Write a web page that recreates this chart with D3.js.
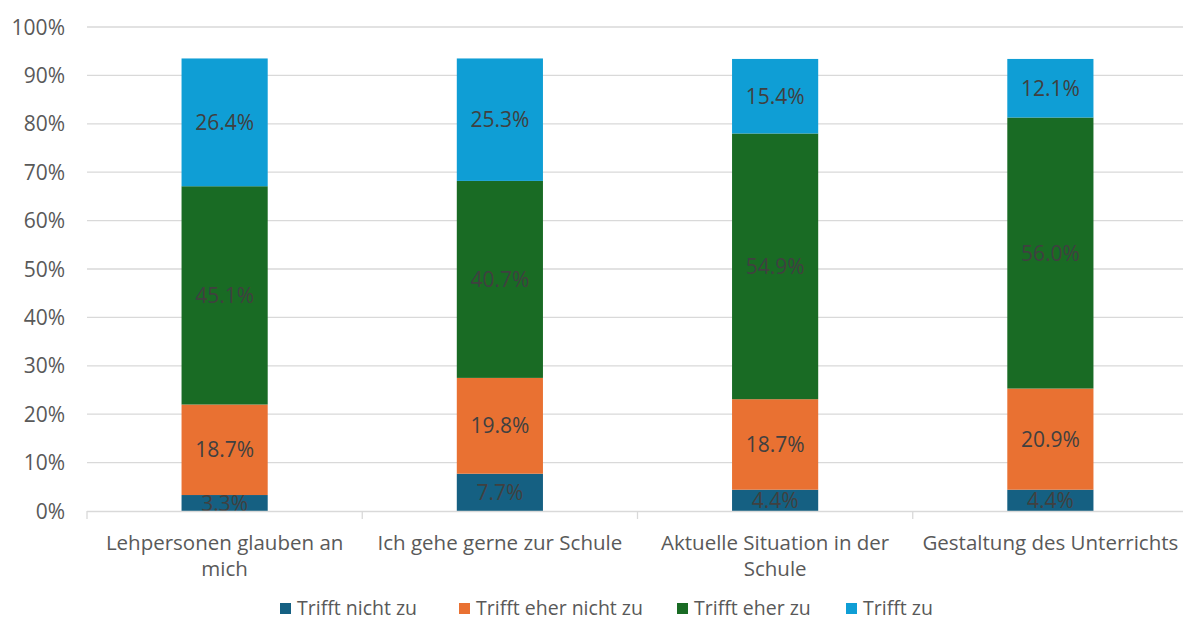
<!DOCTYPE html>
<html><head><meta charset="utf-8">
<script src="https://cdn.jsdelivr.net/npm/d3@7"></script>
<style>
body{margin:0;background:#fff;}
svg{display:block;}
text{font-family:"Open Sans","Noto Sans",sans-serif;}
</style></head>
<body><svg id="c" width="1183" height="621"></svg>
<script>
const categories = ["Lehpersonen glauben an mich","Ich gehe gerne zur Schule","Aktuelle Situation in der Schule","Gestaltung des Unterrichts"];
const seriesNames = ["Trifft nicht zu","Trifft eher nicht zu","Trifft eher zu","Trifft zu"];
const trifftNicht = [3.3, 7.7, 4.4, 4.4];
const trifftEherNicht = [18.7, 19.8, 18.7, 20.9];
const trifftEher = [45.1, 40.7, 54.9, 56.0];
const trifftZu = [26.4, 25.3, 15.4, 12.1];
const yTicks = [0,10,20,30,40,50,60,70,80,90,100];
const colors = ["#156082","#E97132","#196B24","#0F9ED5"];

const svg = d3.select("#c");
const x = d3.scaleBand().domain(categories).range([87, 1188]).paddingInner(0.687).paddingOuter(0.3435);
const y = d3.scaleLinear().domain([0,100]).range([511, 27]);

// gridlines
svg.append("g").selectAll("line").data(yTicks.filter(d=>d>0)).join("line")
  .attr("x1",87).attr("x2",1188).attr("y1",d=>y(d)).attr("y2",d=>y(d))
  .attr("stroke","#d9d9d9").attr("stroke-width",1.3);

// y labels
svg.append("g").selectAll("text").data(yTicks).join("text")
  .attr("x",65).attr("y",d=>y(d)).attr("dy","0.36em").attr("text-anchor","end")
  .attr("font-size",21).attr("fill","#595959").text(d=>d+"%");

const table = categories.map((c,i)=>({cat:c, s0:trifftNicht[i], s1:trifftEherNicht[i], s2:trifftEher[i], s3:trifftZu[i]}));
const stack = d3.stack().keys(["s0","s1","s2","s3"])(table);

const g = svg.append("g");
stack.forEach((layer,li)=>{
  g.append("g").selectAll("rect").data(layer).join("rect")
    .attr("x",d=>x(d.data.cat)).attr("width",x.bandwidth())
    .attr("y",d=>y(d[1])).attr("height",d=>y(d[0])-y(d[1]))
    .attr("fill",colors[li]);
});
stack.forEach((layer,li)=>{
  g.append("g").selectAll("text").data(layer).join("text")
    .attr("x",d=>x(d.data.cat)+x.bandwidth()/2)
    .attr("y",d=>(y(d[0])+y(d[1]))/2).attr("dy","0.36em")
    .attr("text-anchor","middle").attr("font-size",21).attr("fill","#404040")
    .text(d=>(d[1]-d[0]).toFixed(1)+"%");
});

// x axis baseline
svg.append("line").attr("x1",87).attr("x2",1188).attr("y1",511.5).attr("y2",511.5).attr("stroke","#d9d9d9").attr("stroke-width",1.3);
const step = x.step();
const bounds = [0,1,2,3,4].map(i=>87+i*step);
svg.append("g").selectAll("line").data(bounds).join("line")
  .attr("x1",d=>d).attr("x2",d=>d).attr("y1",511).attr("y2",519)
  .attr("stroke","#d9d9d9").attr("stroke-width",1.3);

// category labels with wrapping
const measure = svg.append("text").attr("font-size",20.5).attr("visibility","hidden");
function wrap(str, maxW){
  const words = str.split(" "); const lines=[]; let cur="";
  words.forEach(w=>{
    const t = cur? cur+" "+w : w;
    measure.text(t);
    if(measure.node().getComputedTextLength()>maxW && cur){lines.push(cur);cur=w;} else cur=t;
  });
  lines.push(cur); return lines;
}
categories.forEach(c=>{
  const lines = wrap(c, 265);
  const t = svg.append("text").attr("text-anchor","middle").attr("font-size",20.5).attr("fill","#595959");
  lines.forEach((l,i)=>t.append("tspan").attr("x",x(c)+x.bandwidth()/2).attr("y",550+i*26).text(l));
});
measure.remove();

// legend
const legX = [280, 459, 677, 846];
const lg = svg.append("g");
seriesNames.forEach((n,i)=>{
  lg.append("rect").attr("x",legX[i]).attr("y",603).attr("width",11).attr("height",11).attr("fill",colors[i]);
  lg.append("text").attr("x",legX[i]+17).attr("y",615).attr("font-size",19.5)
    .attr("fill","#595959").text(n);
});
</script></body></html>
